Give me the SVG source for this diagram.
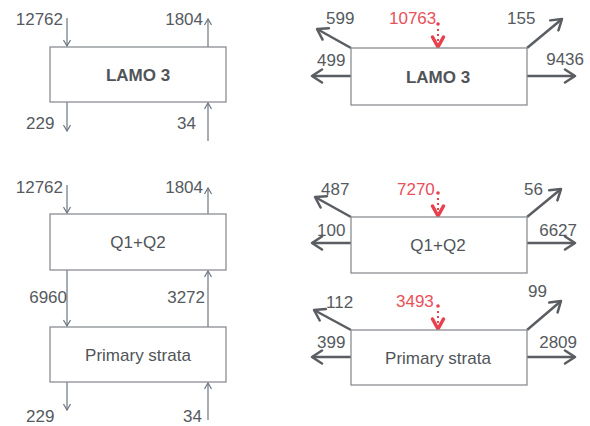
<svg xmlns="http://www.w3.org/2000/svg" width="590" height="426" viewBox="0 0 590 426">
<defs>
<marker id="thin" markerUnits="userSpaceOnUse" markerWidth="12" markerHeight="12" refX="7" refY="6" orient="auto">
<polyline points="1,2.5 7,6 1,9.5" fill="none" stroke="#6b7680" stroke-width="1.2"/>
</marker>
<marker id="thick" markerUnits="userSpaceOnUse" markerWidth="16" markerHeight="16" refX="12" refY="8" orient="auto">
<polyline points="2,1.5 12,8 2,14.5" fill="none" stroke="#5a5e62" stroke-width="2.5" stroke-linecap="round" stroke-linejoin="round"/>
</marker>
</defs>
<style>
.box{fill:#fff;stroke:#8a8e92;stroke-width:1.3}
.t{font-family:"Liberation Sans",Arial,sans-serif;font-size:17px;fill:#555a5e}
.lbl{font-family:"Liberation Sans",Arial,sans-serif;font-size:17px;fill:#505458;text-anchor:middle}
.red{font-family:"Liberation Sans",Arial,sans-serif;font-size:17px;fill:#e8505a}
.a1{stroke:#6b7680;stroke-width:1.2;fill:none;marker-end:url(#thin)}
.a2{stroke:#5a5e62;stroke-width:2.5;fill:none;marker-end:url(#thick)}
.rs{stroke:#e8404c;stroke-width:2;stroke-dasharray:2 3;fill:none}
.rh{stroke:#e8404c;stroke-width:3.5;fill:none;stroke-linejoin:round;stroke-linecap:round}
</style>
<rect width="590" height="426" fill="#fff"/>

<g id="connectors">
<!-- left top -->
<line class="a1" x1="67" y1="18" x2="67" y2="46"/>
<line class="a1" x1="208" y1="47" x2="208" y2="19"/>
<line class="a1" x1="67" y1="102" x2="67" y2="131"/>
<line class="a1" x1="208" y1="141" x2="208" y2="103"/>
<!-- left bottom -->
<line class="a1" x1="67" y1="185" x2="67" y2="213"/>
<line class="a1" x1="208" y1="214" x2="208" y2="188"/>
<line class="a1" x1="67" y1="270" x2="67" y2="326"/>
<line class="a1" x1="208" y1="327" x2="208" y2="271"/>
<line class="a1" x1="67" y1="382" x2="67" y2="410"/>
<line class="a1" x1="208" y1="420" x2="208" y2="383"/>
<!-- right top -->
<line class="a2" x1="351" y1="48" x2="317" y2="29"/>
<line class="a2" x1="527" y1="48" x2="562" y2="19"/>
<line class="a2" x1="351" y1="76" x2="312" y2="76"/>
<line class="a2" x1="527" y1="76" x2="575" y2="76"/>
<!-- right middle -->
<line class="a2" x1="351" y1="217" x2="315" y2="197"/>
<line class="a2" x1="527" y1="217" x2="561" y2="189"/>
<line class="a2" x1="351" y1="243" x2="312" y2="243"/>
<line class="a2" x1="527" y1="243" x2="575" y2="243"/>
<!-- right bottom -->
<line class="a2" x1="351" y1="330" x2="314" y2="310"/>
<line class="a2" x1="527" y1="330" x2="561" y2="301"/>
<line class="a2" x1="351" y1="357" x2="312" y2="357"/>
<line class="a2" x1="527" y1="357" x2="575" y2="357"/>
<!-- red inputs -->
<circle cx="438" cy="24" r="1.8" fill="#e8404c"/>
<line class="rs" x1="438" y1="29" x2="438" y2="45"/>
<polyline class="rh" points="432.5,37 438,47 443.5,37"/>
<circle cx="438" cy="193" r="1.8" fill="#e8404c"/>
<line class="rs" x1="438" y1="198" x2="438" y2="214"/>
<polyline class="rh" points="432.5,206 438,216 443.5,206"/>
<circle cx="438" cy="306" r="1.8" fill="#e8404c"/>
<line class="rs" x1="438" y1="311" x2="438" y2="327"/>
<polyline class="rh" points="432.5,319 438,329 443.5,319"/>
</g>

<g id="lamo3-left">
<rect class="box" x="50" y="47" width="176" height="55"/>
<text class="lbl" x="138" y="81" font-weight="bold">LAMO 3</text>
</g>
<g id="q1q2-left">
<rect class="box" x="50" y="214" width="176" height="56"/>
<text class="lbl" x="138" y="248">Q1+Q2</text>
</g>
<g id="primary-left">
<rect class="box" x="50" y="327" width="176" height="55"/>
<text class="lbl" x="138" y="361">Primary strata</text>
</g>
<g id="lamo3-right">
<rect class="box" x="351" y="48" width="176" height="57"/>
<text class="lbl" x="438" y="83" font-weight="bold">LAMO 3</text>
</g>
<g id="q1q2-right">
<rect class="box" x="351" y="217" width="176" height="56"/>
<text class="lbl" x="438" y="251">Q1+Q2</text>
</g>
<g id="primary-right">
<rect class="box" x="351" y="330" width="176" height="55"/>
<text class="lbl" x="438" y="364">Primary strata</text>
</g>

<g id="labels">
<text class="t" x="63" y="25" text-anchor="end">12762</text>
<text class="t" x="203" y="25" text-anchor="end">1804</text>
<text class="t" x="26" y="129">229</text>
<text class="t" x="196" y="129" text-anchor="end">34</text>
<text class="t" x="63" y="193" text-anchor="end">12762</text>
<text class="t" x="203" y="193" text-anchor="end">1804</text>
<text class="t" x="67" y="303" text-anchor="end">6960</text>
<text class="t" x="205" y="303" text-anchor="end">3272</text>
<text class="t" x="26" y="422">229</text>
<text class="t" x="202" y="422" text-anchor="end">34</text>

<text class="t" x="326" y="24">599</text>
<text class="red" x="389" y="24">10763</text>
<text class="t" x="507" y="24">155</text>
<text class="t" x="317" y="66">499</text>
<text class="t" x="584" y="65" text-anchor="end">9436</text>

<text class="t" x="321" y="195">487</text>
<text class="red" x="397" y="195">7270</text>
<text class="t" x="524" y="195">56</text>
<text class="t" x="317" y="236">100</text>
<text class="t" x="577" y="236" text-anchor="end">6627</text>

<text class="t" x="326" y="308">112</text>
<text class="red" x="396" y="307">3493</text>
<text class="t" x="528" y="297">99</text>
<text class="t" x="317" y="348">399</text>
<text class="t" x="577" y="348" text-anchor="end">2809</text>
</g>
</svg>
